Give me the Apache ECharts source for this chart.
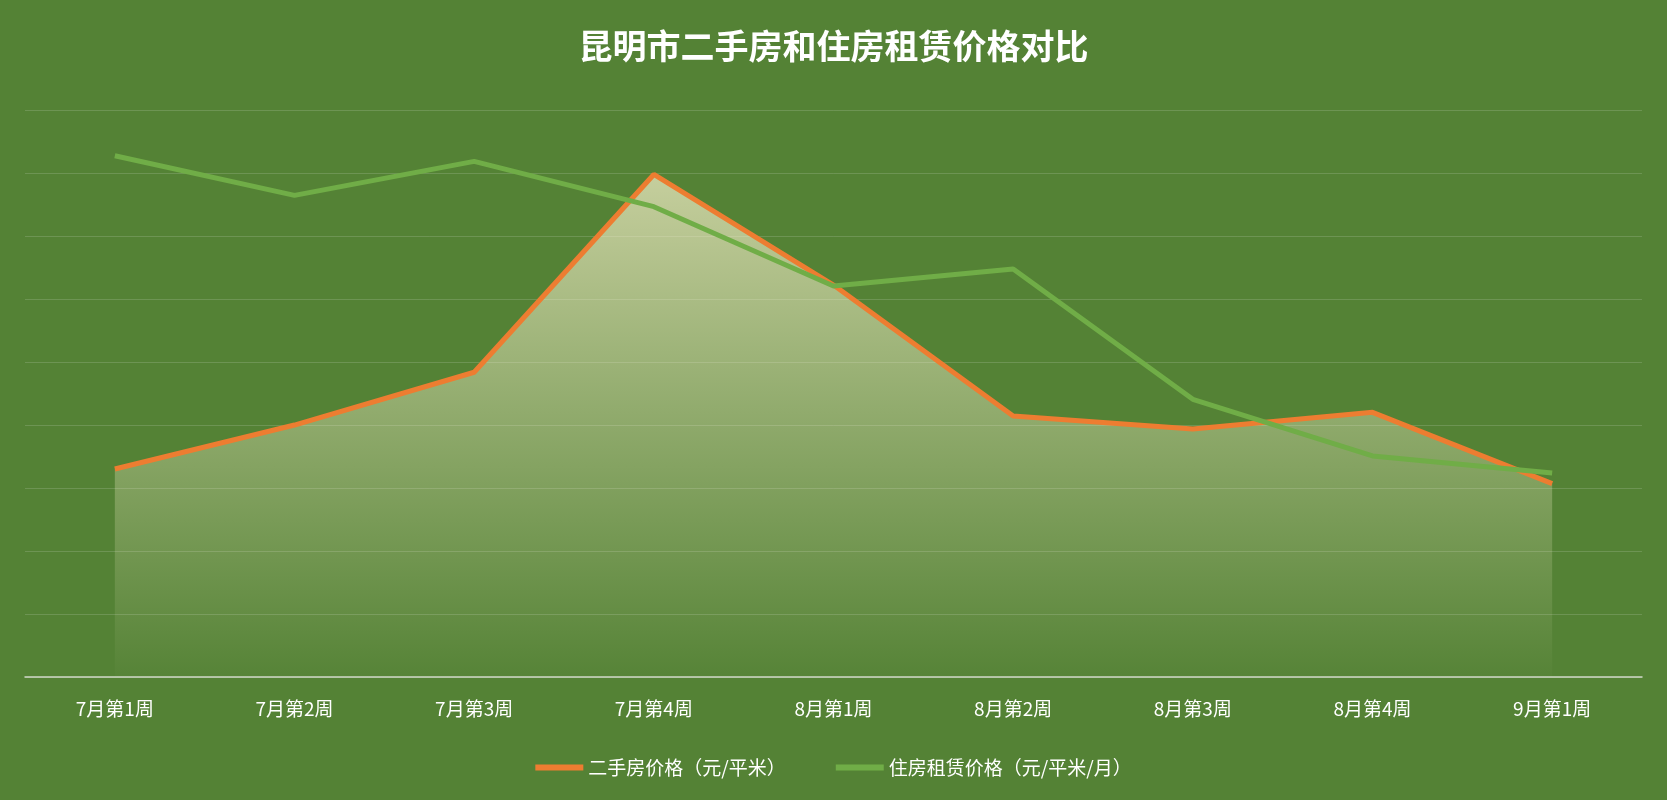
<!DOCTYPE html>
<html><head><meta charset="utf-8">
<script src="https://cdn.jsdelivr.net/npm/echarts@6/dist/echarts.min.js"></script>
<style>html,body{margin:0;padding:0;background:#548235;}#c{width:1667px;height:800px;}</style>
</head><body><div id="c"></div>
<script>
const categories = ['7月第1周','7月第2周','7月第3周','7月第4周','8月第1周','8月第2周','8月第3周','8月第4周','9月第1周'];
const housePrice = [11930.17, 12000.05, 12083.90, 12398.18, 12222.49, 12014.35, 11993.81, 12020.20, 11906.84];
const rentPrice = [26.22, 26.15, 26.21, 26.13, 25.99, 26.02, 25.79, 25.69, 25.66];
const housePos = ['bottom','bottom','bottom','top','top','bottom','bottom','top','bottom'];
const rentPos = ['top','top','top','bottom','bottom','top','top','bottom','top'];
const lbl = {show:true, color:'#F2EEDC', fontSize:21, fontWeight:'bold', distance:14, fontFamily:'Noto Sans CJK SC'};
const chart = echarts.init(document.getElementById('c'));
chart.setOption({
  backgroundColor:'#548235',
  textStyle:{fontFamily:'Noto Sans CJK SC'},
  title:{text:'昆明市二手房和住房租赁价格对比', left:'center', top:24,
    textStyle:{color:'#fff', fontSize:34, fontWeight:'bold'}},
  legend:{bottom:18, itemWidth:48, itemHeight:6, itemGap:50, icon:'rect',
    textStyle:{color:'#fff', fontSize:19}},
  grid:{left:'1.5%', right:'1.5%', top:'13.8%', bottom:'15.4%', containLabel:false},
  xAxis:{type:'category', data:categories, boundaryGap:true,
    axisLine:{lineStyle:{color:'#D0D8C8', width:1.5}}, axisTick:{show:false},
    axisLabel:{color:'#fff', fontSize:19, margin:22}},
  yAxis:[
    {type:'value', min:11600, max:12500, interval:100, axisLabel:{show:false},
     axisLine:{show:false}, axisTick:{show:false},
     splitLine:{lineStyle:{color:'rgba(255,255,255,0.15)'}}},
    {type:'value', min:25.3, max:26.3, axisLabel:{show:false},
     axisLine:{show:false}, axisTick:{show:false}, splitLine:{show:false}}
  ],
  series:[
    {name:'二手房价格（元/平米）', type:'line', yAxisIndex:0, symbol:'none',
     data:housePrice.map((v,i)=>({value:v,label:{position:housePos[i]}})),
     lineStyle:{color:'#ED7D31', width:5}, itemStyle:{color:'#ED7D31'},
     areaStyle:{color:new echarts.graphic.LinearGradient(0,0,0,1,[
       {offset:0,color:'rgba(255,245,210,0.95)'},{offset:1,color:'rgba(255,245,210,0.02)'}])},
     label:Object.assign({}, lbl, {formatter:p=>p.value.toFixed(2)}), z:2},
    {name:'住房租赁价格（元/平米/月）', type:'line', yAxisIndex:1, symbol:'none',
     data:rentPrice.map((v,i)=>({value:v,label:{position:rentPos[i]}})),
     lineStyle:{color:'#70AD47', width:5}, itemStyle:{color:'#70AD47'},
     label:Object.assign({}, lbl, {formatter:p=>p.value.toFixed(2)}), z:3}
  ]
});
</script></body></html>
